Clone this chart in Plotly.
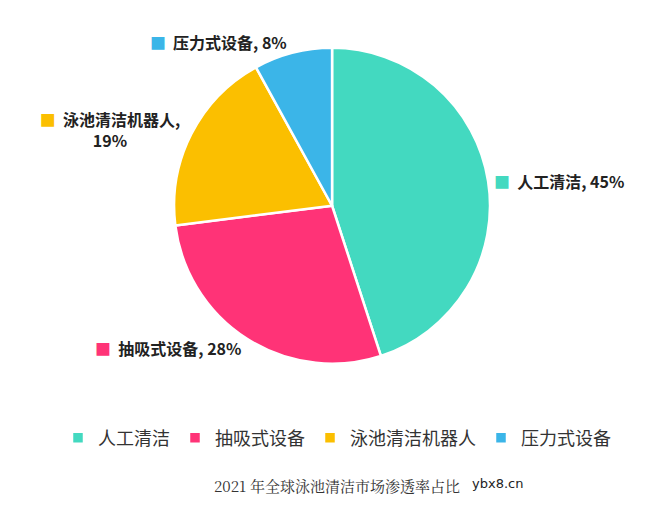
import plotly.graph_objects as go

labels = ["人工清洁", "抽吸式设备", "泳池清洁机器人", "压力式设备"]
values = [45, 28, 19, 8]
colors = ["#43D9C0", "#FF3377", "#FBBF00", "#3BB5E8"]
title = "2021 年全球泳池清洁市场渗透率占比"

templates = [
    "<span style='color:%s'>■</span>  <b>%%{label}, %%{percent:.0%%}</b>" % c for c in colors
]
# long label wraps in the reference
templates[2] = "<span style='color:%s'>■</span>  <b>%%{label},</b><br><b>19%%</b>" % colors[2]

fig = go.Figure(
    data=[
        go.Pie(
            labels=labels,
            values=values,
            sort=False,
            direction="clockwise",
            rotation=0,
            marker=dict(colors=colors, line=dict(color="white", width=2.5)),
            textposition="outside",
            texttemplate=templates,
            textfont=dict(size=16, color="#222222", family="Noto Sans CJK SC"),
            hoverinfo="label+percent",
            domain=dict(x=[0.252, 0.733], y=[0.312, 0.923]),
        )
    ]
)

fig.update_layout(
    width=658,
    height=517,
    margin=dict(l=0, r=0, t=0, b=0),
    paper_bgcolor="white",
    showlegend=True,
    legend=dict(
        orientation="h",
        x=0.5,
        xanchor="center",
        y=0.168,
        yanchor="middle",
        font=dict(size=18, color="#333333", family="Noto Sans CJK SC"),
        itemwidth=30,
        tracegroupgap=0,
    ),
    annotations=[
        dict(
            text=title, x=0.5, y=0.052, xref="paper", yref="paper",
            showarrow=False, font=dict(size=15, color="#333333", family="Noto Serif CJK SC, serif"),
        ),
        dict(
            text="ybx8.cn", x=0.785, y=0.062, xref="paper", yref="paper",
            showarrow=False, font=dict(size=13, color="#222222", family="DejaVu Sans"),
        ),
    ],
)

fig.write_html("out.html")
